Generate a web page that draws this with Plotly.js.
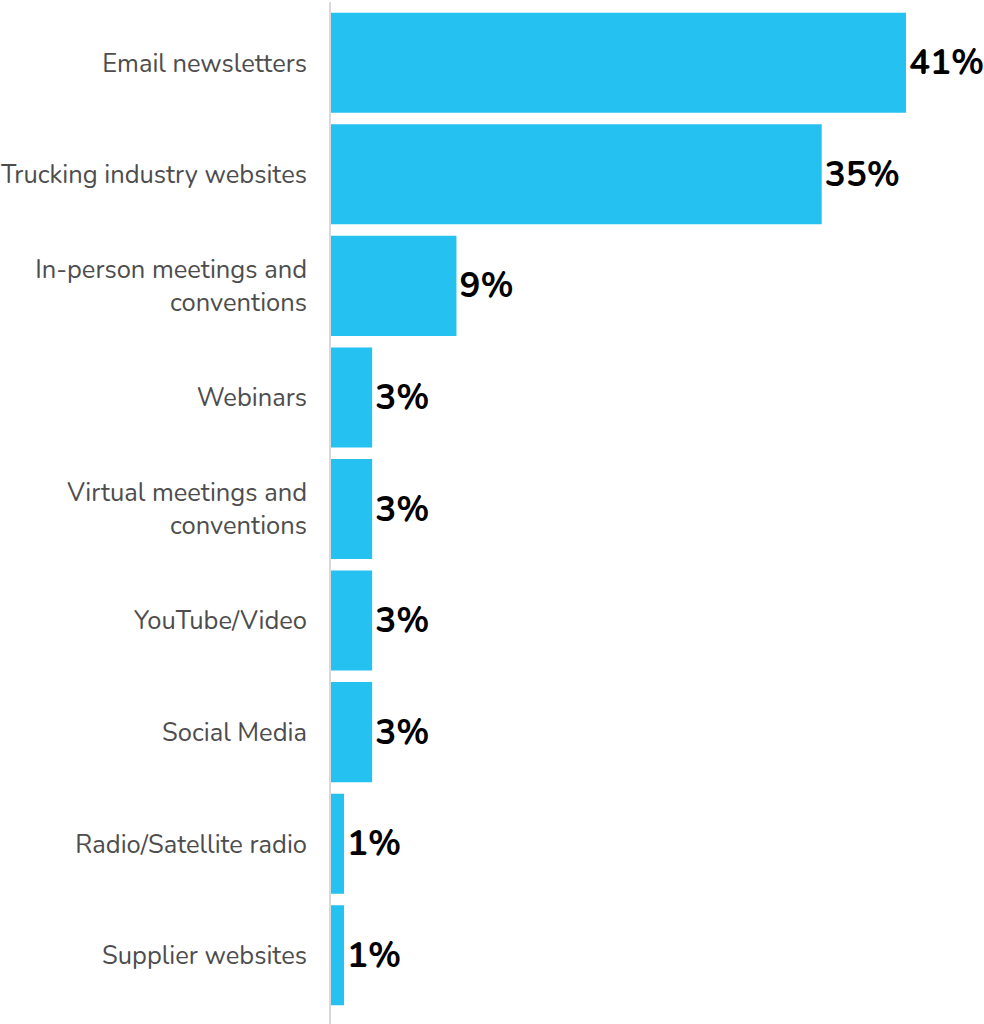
<!DOCTYPE html>
<html>
<head>
<meta charset="utf-8">
<script src="https://cdn.plot.ly/plotly-3.0.1.min.js"></script>
<style>html,body{margin:0;padding:0;background:#fff;}#chart{width:984px;height:1024px;}</style>
</head>
<body>
<div id="chart"></div>
<script>
var categories = [
  "Email newsletters",
  "Trucking industry websites",
  "In-person meetings and<br>conventions",
  "Webinars",
  "Virtual meetings and<br>conventions",
  "YouTube/Video",
  "Social Media",
  "Radio/Satellite radio",
  "Supplier websites"
];
var values = [41, 35, 9, 3, 3, 3, 3, 1, 1];

var trace = {
  type: 'bar',
  orientation: 'h',
  y: categories,
  x: values,
  marker: {color: '#25C1F0'},
  text: values.map(function(v){ return v + '%'; }),
  textposition: 'outside',
  textfont: {family: 'Nunito, "Noto Sans", sans-serif', size: 35, color: '#000000', weight: 'bold'},
  cliponaxis: false,
  hoverinfo: 'none'
};

var layout = {
  width: 984,
  height: 1024,
  margin: {l: 330, r: 0, t: 7, b: 13, pad: 0},
  paper_bgcolor: '#ffffff',
  plot_bgcolor: '#ffffff',
  bargap: 0.103,
  showlegend: false,
  font: {family: 'Nunito, "Noto Sans", sans-serif'},
  xaxis: {
    range: [0, 46.55],
    visible: false,
    showgrid: false,
    zeroline: false,
    fixedrange: true
  },
  yaxis: {
    autorange: 'reversed',
    showgrid: false,
    zeroline: false,
    showline: false,
    ticks: '',
    ticklabelstandoff: 22,
    tickfont: {family: 'Nunito, "Noto Sans", sans-serif', size: 25.5, color: '#4D4D4D'},
    fixedrange: true
  },
  shapes: [{
    type: 'line', xref: 'paper', yref: 'paper',
    x0: 0, x1: 0, y0: -0.015, y1: 1.005,
    line: {color: '#D9D9D9', width: 2}
  }]
};

Plotly.newPlot('chart', [trace], layout, {displayModeBar: false, staticPlot: true});
</script>
</body>
</html>
